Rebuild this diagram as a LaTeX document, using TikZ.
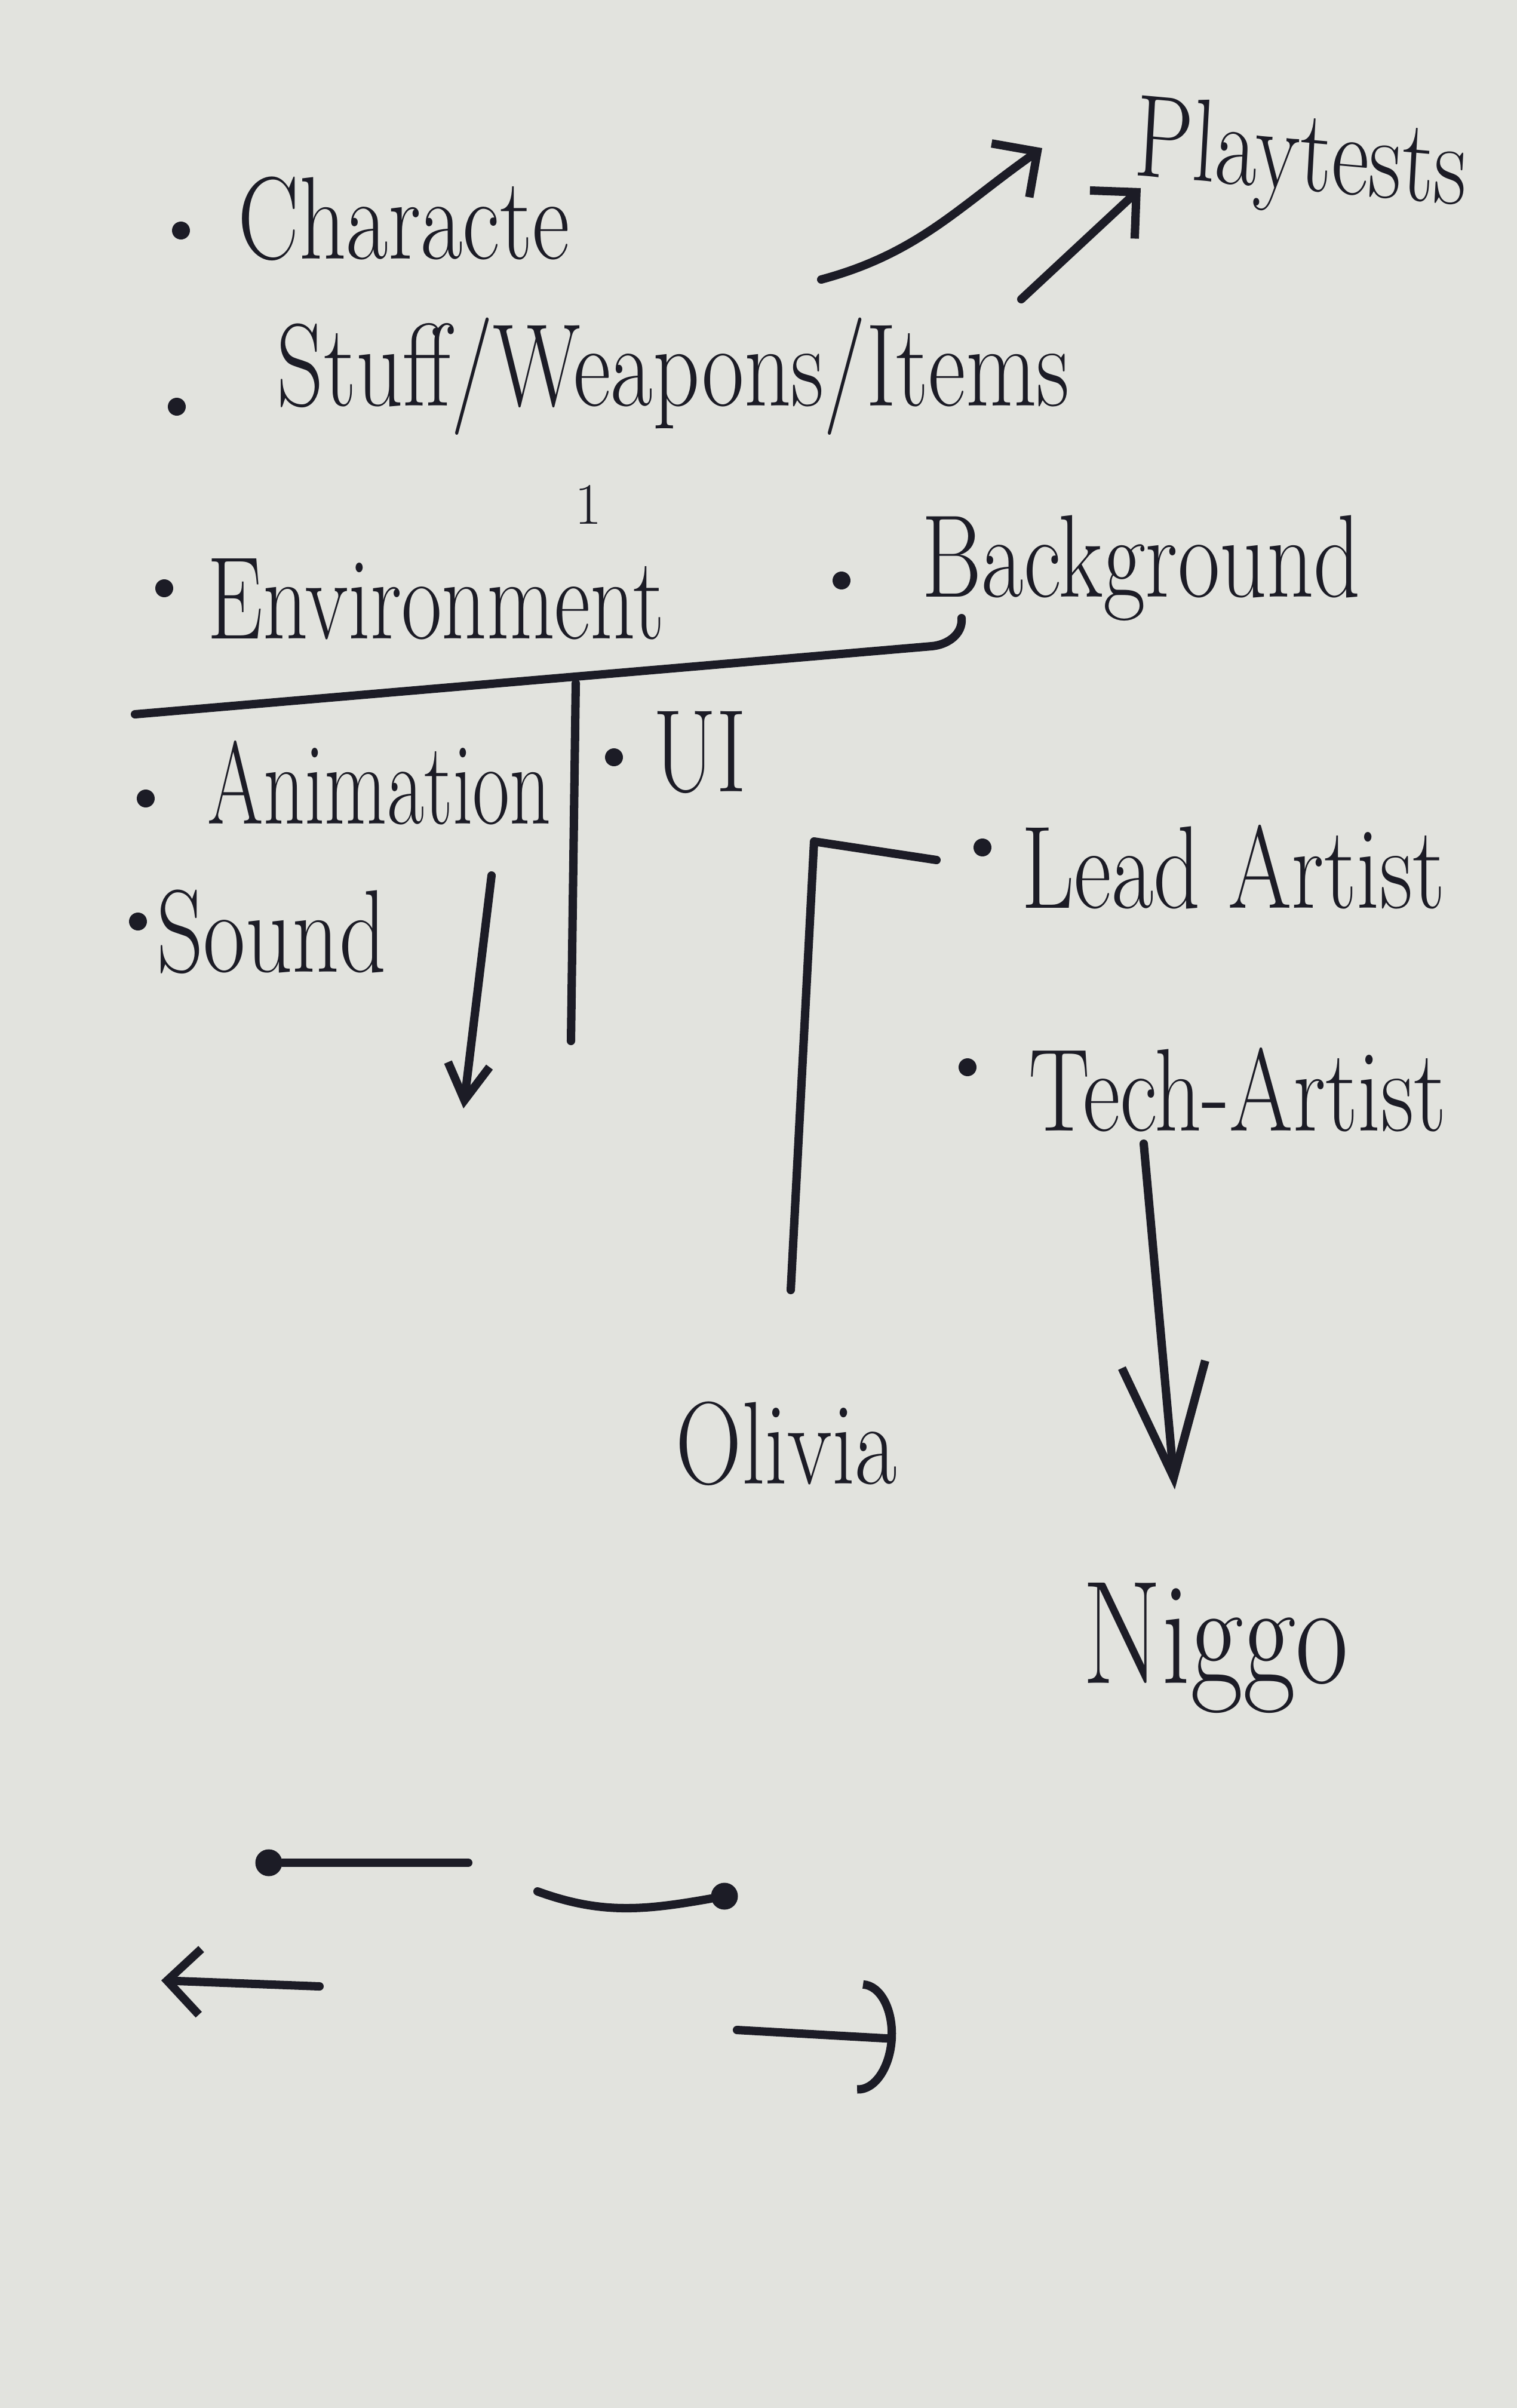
\documentclass[tikz,border=0pt]{standalone}
\usepackage{fontspec}
\usetikzlibrary{arrows.meta,positioning}

\definecolor{paper}{RGB}{226,227,222}
\definecolor{ink}{RGB}{28,28,38}

\begin{document}
\begin{tikzpicture}[
    pen/.style={draw=ink, line width=4pt, line cap=round, line join=round},
    word/.style={anchor=west, text=ink, inner sep=0pt, font=\fontsize{56}{60}\selectfont, xscale=0.78, transform shape},
    dot/.style={circle, fill=ink, inner sep=0pt, minimum size=0.3cm},
    bigdot/.style={circle, fill=ink, inner sep=0pt, minimum size=0.45cm},
    tip/.style={-{Straight Barb[length=0.55cm,width=1.1cm,line width=4pt]}}
]
\fill[paper] (0,0) rectangle (25.4,-40.32);
\useasboundingbox (0,0) rectangle (25.4,-40.32);

% top list
\node[dot] (bchar) at (3.03,-3.86) {};
\node[word] (char) at (3.98,-3.66) {Characte};
\node[dot] (bstuff) at (2.96,-6.81) {};
\node[word] (stuff) at (4.63,-6.3) {Stuff/Weapons/Items};
\node[dot] (benv) at (2.75,-9.85) {};
\node[word, xscale=0.96] (env) at (3.47,-10.03) {Environment};
\node[text=ink, inner sep=0pt, font=\fontsize{28}{30}\selectfont] (one) at (9.85,-8.45) {1};
\node[dot] (bback) at (14.09,-9.72) {};
\node[word] (back) at (15.43,-9.51) {Background};
\node[word, rotate=-4] (play) at (19.0,-2.45) {Playtests};

% arrows to playtests
\coordinate (p1) at (13.75,-4.68);
\coordinate (p2) at (17.45,-2.48);
\coordinate (p3) at (17.1,-5.01);
\coordinate (p4) at (19.1,-3.15);
\draw[pen, tip] (p1) to[out=15, in=-145] (p2);
\draw[pen, tip] (p3) -- (p4);

% divider
\coordinate (l1) at (2.26,-11.96);
\coordinate (l2) at (15.6,-10.82);
\coordinate (l3) at (16.1,-10.35);
\draw[pen] (l1) -- (l2) to[out=5, in=-85] (l3);
\coordinate (v1) at (9.64,-11.44);
\coordinate (v2) at (9.56,-17.43);
\draw[pen] (v1) -- (v2);

% lower list
\node[dot] (banim) at (2.44,-13.37) {};
\node[word, xscale=0.88] (anim) at (3.47,-13.11) {Animation};
\node[dot] (bui) at (10.28,-12.68) {};
\node[word] (ui) at (10.93,-12.6) {UI};
\node[dot] (bsound) at (2.31,-15.43) {};
\node[word] (sound) at (2.62,-15.6) {Sound};
\coordinate (s1) at (8.23,-14.66);
\coordinate (s2) at (7.76,-18.56);
\draw[pen, -{Straight Barb[length=0.6cm,width=0.7cm,line width=4pt]}] (s1) -- (s2);

% artists
\node[dot] (blead) at (16.45,-14.19) {};
\node[word] (lead) at (17.1,-14.52) {Lead Artist};
\node[dot] (btech) at (16.2,-17.87) {};
\node[word] (tech) at (17.22,-18.25) {Tech-Artist};
\coordinate (k1) at (15.68,-14.4);
\coordinate (k2) at (13.63,-14.09);
\coordinate (k3) at (13.24,-21.6);
\draw[pen] (k1) -- (k2) -- (k3);
\node[word] (olivia) at (11.31,-24.17) {Olivia};
\node[word, font=\fontsize{70}{74}\selectfont] (niggo) at (18.12,-27.6) {Niggo};
\coordinate (t1) at (19.15,-19.15);
\coordinate (t2) at (19.67,-24.94);
\draw[pen, -{Straight Barb[length=1.9cm,width=1.4cm,line width=4pt]}] (t1) -- (t2);

% legend marks
\node[bigdot] (d1) at (4.5,-31.19) {};
\coordinate (e1) at (7.84,-31.19);
\draw[pen] (d1) -- (e1);
\node[bigdot] (d2) at (12.13,-31.75) {};
\coordinate (e2) at (9.0,-31.67);
\draw[pen] (e2) to[out=-20, in=190] (d2);
\coordinate (a1) at (5.35,-33.26);
\coordinate (a2) at (2.7,-33.16);
\draw[pen, tip] (a1) -- (a2);
\coordinate (r1) at (12.34,-33.99);
\coordinate (r2) at (15.0,-34.14);
\draw[pen, -{Arc Barb[length=0.6cm,width=1.9cm,line width=4pt]}] (r1) -- (r2);
\end{tikzpicture}
\end{document}
